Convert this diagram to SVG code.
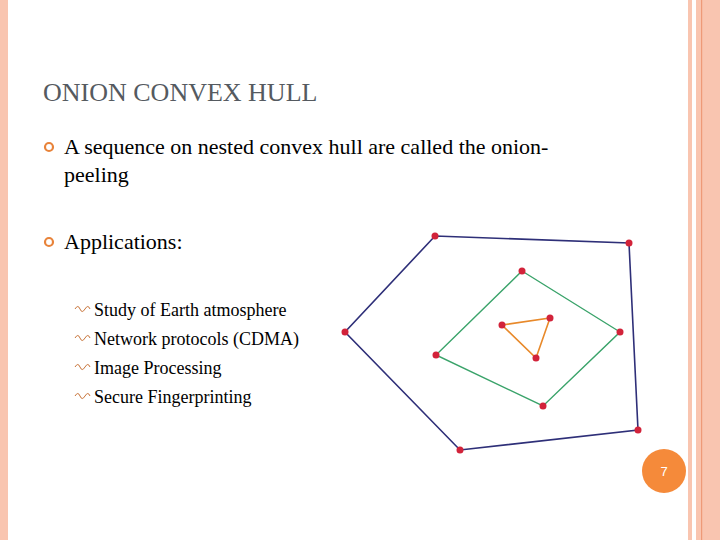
<svg xmlns="http://www.w3.org/2000/svg" width="720" height="540" viewBox="0 0 720 540">
<style>
.t{fill:#000}
.pt{fill:#d2233a}
.b{fill:none;stroke:#e8833a;stroke-width:2.2}
.sb{fill:none;stroke:#c8743a;stroke-width:1}
</style>
<rect width="720" height="540" fill="#fff"/>
<rect x="0" y="0" width="8" height="540" fill="#f9c5b0"/>
<rect x="688" y="0" width="4" height="540" fill="#f9c5b0"/>
<rect x="696" y="0" width="24" height="540" fill="#f9c5b0"/>
<rect x="701" y="0" width="1.2" height="540" fill="#ee9a78"/>
<g font-family="'Liberation Serif', 'DejaVu Serif', serif">
<text x="43" y="101" font-size="26" fill="#555a60">ONION CONVEX HULL</text>
<g id="bullets">
<circle cx="49" cy="147" r="4" class="b"/>
<circle cx="49" cy="242" r="4" class="b"/>
<text class="t" x="64" y="154" font-size="22">A sequence on nested convex hull are called the onion-</text>
<text class="t" x="64" y="182" font-size="22">peeling</text>
<text class="t" x="64" y="249" font-size="22">Applications:</text>
<g class="sb">
<path d="M75,309 q3,-5 5,0 q2,5 5,0 q3,-5 5,0"/>
<path d="M75,338 q3,-5 5,0 q2,5 5,0 q3,-5 5,0"/>
<path d="M75,367 q3,-5 5,0 q2,5 5,0 q3,-5 5,0"/>
<path d="M75,396 q3,-5 5,0 q2,5 5,0 q3,-5 5,0"/>
</g>
<text class="t" x="94" y="316" font-size="18">Study of Earth atmosphere</text>
<text class="t" x="94" y="345" font-size="18">Network protocols (CDMA)</text>
<text class="t" x="94" y="374" font-size="18">Image Processing</text>
<text class="t" x="94" y="403" font-size="18">Secure Fingerprinting</text>
</g>
</g>
<g id="connectors">
<polygon points="435,236 629,243 638,430 460,450 345,332" fill="none" stroke="#2e2f78" stroke-width="1.6"/>
<polygon points="522,271 620,332 543,406 436,355" fill="none" stroke="#3aa36a" stroke-width="1.4"/>
<polygon points="502,325 550,318 536,358" fill="none" stroke="#e8892a" stroke-width="1.6"/>
</g>
<g id="points">
<circle class="pt" cx="435" cy="236" r="3.5"/><circle class="pt" cx="629" cy="243" r="3.5"/>
<circle class="pt" cx="638" cy="430" r="3.5"/><circle class="pt" cx="460" cy="450" r="3.5"/>
<circle class="pt" cx="345" cy="332" r="3.5"/>
<circle class="pt" cx="522" cy="271" r="3.5"/><circle class="pt" cx="620" cy="332" r="3.5"/>
<circle class="pt" cx="543" cy="406" r="3.5"/><circle class="pt" cx="436" cy="355" r="3.5"/>
<circle class="pt" cx="502" cy="325" r="3.5"/><circle class="pt" cx="550" cy="318" r="3.5"/>
<circle class="pt" cx="536" cy="358" r="3.5"/>
</g>
<g id="page">
<circle cx="664" cy="471" r="22" fill="#f58a3a"/>
<text font-family="'Liberation Sans', sans-serif" x="664" y="476" font-size="13" fill="#fff" text-anchor="middle">7</text>
</g>
</svg>
